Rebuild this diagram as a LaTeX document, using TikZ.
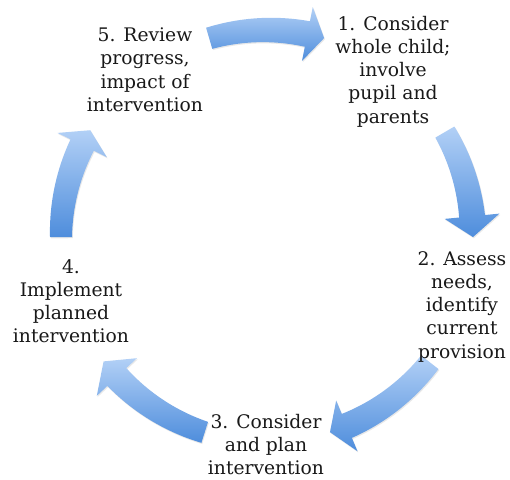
\documentclass[tikz,border=0pt]{standalone}
\usepackage{fontspec}
\newfontfamily\cyclefont{DejaVu Serif}
\usetikzlibrary{shadows}
\definecolor{arrowlight}{RGB}{178,208,246}
\definecolor{arrowdark}{RGB}{78,141,220}
\definecolor{labeltext}{RGB}{25,25,25}
\tikzset{
  lbl/.style={align=center, inner sep=0pt, text=labeltext,
    font=\cyclefont\fontsize{18.7}{23.3}\selectfont},
  arrowshade/.style={top color=arrowlight, bottom color=arrowdark,
    drop shadow={opacity=0.18, shadow xshift=0.8pt, shadow yshift=-1.2pt}}
}
% tail angle, head-base angle, tip angle (degrees, clockwise travel)
\newcommand\cyclearrow[3]{%
  \shade[arrowshade]
    plot[domain=#1:#2, samples=30] (\x:{217+2*(\x-#1)/(#2-#1)})
    -- (#2:233.5) -- (#3:206) -- (#2:178.5)
    -- plot[domain=#2:#1, samples=30] (\x:{195-2*(\x-#1)/(#2-#1)})
    -- cycle;}
\begin{document}
\begin{tikzpicture}[x=1pt,y=1pt]
\useasboundingbox (0,0) rectangle (510,-479);
\fill[white] (0,0) rectangle (510,-479);
\begin{scope}[shift={(267,-236)}]
  \cyclearrow{106.3}{78.7}{73.9}
  \cyclearrow{30.3}{5.5}{-0.3}
  \cyclearrow{-37.8}{-67.2}{-72.2}
  \cyclearrow{-107.6}{-136.8}{-142.5}
  \cyclearrow{180.3}{153.8}{149.1}
\end{scope}
\node[lbl, anchor=base] (n5) at (145,-111.4) {5. Review\\progress,\\impact of\\intervention};
\node[lbl, anchor=base] (n1) at (393,-123.2) {1. Consider\\whole child;\\involve\\pupil and\\parents};
\node[lbl, anchor=base] (n2) at (462,-358.2) {2. Assess\\needs,\\identify\\current\\provision};
\node[lbl, anchor=base] (n3) at (266,-474.6) {3. Consider\\and plan\\intervention};
\node[lbl, anchor=base] (n4) at (71,-342.9) {4.\\Implement\\planned\\intervention};
\end{tikzpicture}
\end{document}
